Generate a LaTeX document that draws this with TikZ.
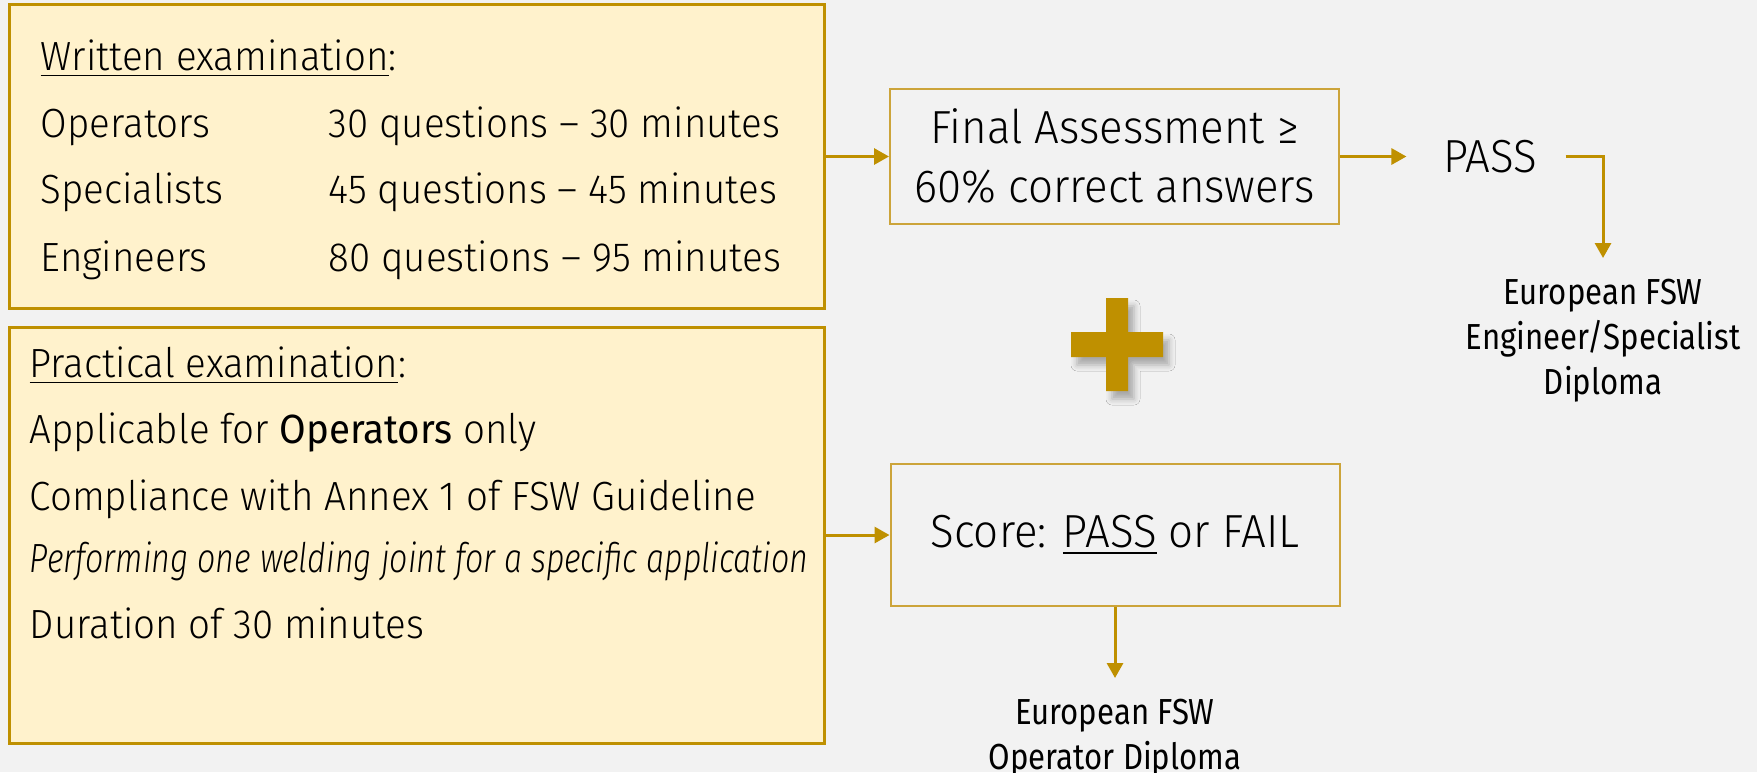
\documentclass[tikz,border=0pt]{standalone}
\usepackage{fontspec}
\setmainfont{Fira Sans Light}[FakeStretch=0.945,BoldFont={Fira Sans},
ItalicFont={Fira Sans Light Italic},ItalicFeatures={FakeStretch=0.79}]
\newfontfamily\dipfont{Fira Sans}[FakeStretch=0.86]
\usepackage{tikz}
\usetikzlibrary{positioning}
\usetikzlibrary{arrows.meta}
\usetikzlibrary{shadows.blur}
\definecolor{gold}{HTML}{BF9000}
\definecolor{lightgold}{HTML}{CCA43A}
\definecolor{paleyellow}{HTML}{FFF2CC}
\definecolor{bggray}{HTML}{F2F2F2}
\tikzset{
exambox/.style={ % yellow boxes on the left
draw=gold, line width=0.3mm, fill=paleyellow, inner sep=0pt,
minimum width=81.5mm},
resultbox/.style={ % outlined boxes in the middle
draw=lightgold, line width=0.2mm, inner sep=0pt, align=center,
minimum width=44.9mm, font=\fontsize{13.2}{16.8}\selectfont},
txt/.style={anchor=base west, inner sep=0pt,
font=\fontsize{11.6}{14}\selectfont},
diploma/.style={anchor=north, align=center, inner sep=2mm,
font=\dipfont\fontsize{10.3}{12.8}\selectfont},
arr/.style={ % gold connectors
draw=gold, line width=0.3mm,
-{Triangle[width=1.6mm,length=1.5mm]}}}

\begin{document}
\begin{tikzpicture}[x=0.1mm,y=-0.1mm]
\useasboundingbox (0,0) rectangle (1757,772);
\fill[bggray] (0,0) rectangle (1757,772);

% exam boxes
\node[exambox, minimum height=30.47mm] (written) at (416.5,156.5) {};
\node[exambox, minimum height=41.6mm] (practical) at (416.5,535) {};

\node[txt] (wtitle) at (40,70) {\underline{Written examination}:};
\node[txt] (wop) at (40,137) {Operators};
\node[txt] (wspec) at (40,203) {Specialists};
\node[txt] (weng) at (40,271) {Engineers};
\node[txt] (wopq) at (328,137) {30 questions -- 30 minutes};
\node[txt] (wspecq) at (328,203) {45 questions -- 45 minutes};
\node[txt] (wengq) at (328,271) {80 questions -- 95 minutes};

\node[txt] (ptitle) at (29,377) {\underline{Practical examination}:};
\node[txt] (papp) at (29,443) {Applicable for \textbf{Operators} only};
\node[txt] (pcomp) at (29,510) {Compliance with Annex 1 of FSW Guideline};
\node[txt] (pperf) at (29,572) {\textit{Performing one welding joint for a specific application}};
\node[txt] (pdur) at (29,638) {Duration of 30 minutes};

% results
\node[resultbox, minimum height=13.55mm] (final) at (1114.5,156.5)
{Final Assessment ≥\\60\% correct answers};
\node[resultbox, minimum height=14.2mm] (score) at (1115,535)
{Score: \underline{PASS} or FAIL};
\node[inner sep=0pt, font=\fontsize{13.2}{16}\selectfont] (pass) at (1490,156.5) {PASS};

\node[diploma] (engdip) at (1603,258) {European FSW\\Engineer/Specialist\\Diploma};
\node[diploma] (opdip) at (1115,678) {European FSW\\Operator Diploma};

% plus sign
\fill[gold, blur shadow={shadow xshift=0.6mm, shadow yshift=-0.8mm,
shadow blur radius=0.6mm, shadow opacity=30}]
(1106,298) -- (1128,298) -- (1128,332) -- (1163,332) -- (1163,357) -- (1128,357)
-- (1128,391) -- (1106,391) -- (1106,357) -- (1071,357) -- (1071,332) -- (1106,332) -- cycle;

% connectors
\draw[arr] (written.east) -- (final.west);
\draw[arr] (practical.east) -- (score.west);
\draw[arr] (final.east) -- ([xshift=-3.6mm]pass.west);
\draw[arr] ([xshift=2.8mm]pass.east) -| (engdip.north);
\draw[arr] (score.south) -- (opdip.north);
\end{tikzpicture}
\end{document}
